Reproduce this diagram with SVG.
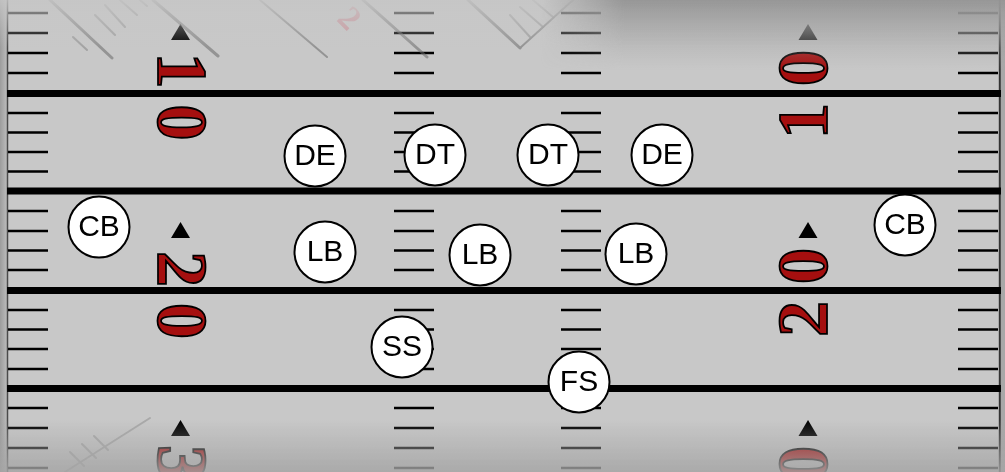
<svg xmlns="http://www.w3.org/2000/svg" width="1005" height="472" viewBox="0 0 1005 472">
<defs>
<style>
.hash{stroke:#000;stroke-width:2.5;fill:none}
.yard{stroke:#000;stroke-width:7;fill:none}
.num{font-family:"Liberation Serif","Times New Roman",serif;font-weight:bold;font-size:72px;fill:#a50f0f;stroke:#000;stroke-width:1.8;text-anchor:middle}
.tri{fill:#000}
.node circle{fill:#fff;stroke:#000;stroke-width:2}
.node text{font-family:"Liberation Sans",Arial,sans-serif;font-size:30px;fill:#000;text-anchor:middle}
.decor{stroke:#6a6a6a;fill:none;stroke-linecap:round}
</style>
<linearGradient id="topFog" x1="0" y1="0" x2="0" y2="1">
<stop offset="0" stop-color="#c6c6c6" stop-opacity="0.85"/>
<stop offset="1" stop-color="#c6c6c6" stop-opacity="0"/>
</linearGradient>
<linearGradient id="topDark" x1="0" y1="0" x2="0" y2="1">
<stop offset="0" stop-color="#8e8e8e" stop-opacity="0.85"/>
<stop offset="0.5" stop-color="#9a9a9a" stop-opacity="0.45"/>
<stop offset="1" stop-color="#aaa" stop-opacity="0"/>
</linearGradient>
<linearGradient id="topDarkSide" x1="0" y1="0" x2="1" y2="0">
<stop offset="0" stop-color="#fff" stop-opacity="0"/>
<stop offset="0.18" stop-color="#fff" stop-opacity="1"/>
<stop offset="1" stop-color="#fff" stop-opacity="1"/>
</linearGradient>
<mask id="sideMask" maskUnits="userSpaceOnUse" x="0" y="0" width="1005" height="472">
<rect x="540" y="0" width="465" height="70" fill="url(#topDarkSide)"/>
</mask>
<linearGradient id="botFog" x1="0" y1="0" x2="0" y2="1">
<stop offset="0" stop-color="#a4a4a4" stop-opacity="0"/>
<stop offset="1" stop-color="#a4a4a4" stop-opacity="0.85"/>
</linearGradient>
<linearGradient id="leftEdge" x1="0" y1="0" x2="1" y2="0">
<stop offset="0" stop-color="#9c9c9c"/>
<stop offset="1" stop-color="#bcbcbc"/>
</linearGradient>
<path id="ticks" d="M0 13h40M0 33h40M0 53h40M0 73h40M0 113h40M0 132.5h40M0 152h40M0 171.5h40M0 211h40M0 231h40M0 250.5h40M0 270h40M0 310h40M0 329.5h40M0 349h40M0 369h40M0 408h40M0 428h40M0 448h40M0 468h40"/>
<path id="tri" d="M-9.5 8L9.5 8L0 -8Z"/>
</defs>

<rect x="0" y="0" width="1005" height="472" fill="#c8c8c8"/>

<g id="field">
<rect x="0" y="0" width="7" height="472" fill="url(#leftEdge)"/>
<rect x="1001" y="0" width="4" height="472" fill="#a8a8a8"/>
<line x1="7.5" y1="0" x2="7.5" y2="472" stroke="#4a4a4a" stroke-width="1.5"/>
<line x1="999.8" y1="0" x2="999.8" y2="472" stroke="#333" stroke-width="2"/>
<g class="hash">
<use href="#ticks" x="8"/>
<use href="#ticks" x="394"/>
<use href="#ticks" x="561"/>
<use href="#ticks" x="958"/>
</g>
<path class="yard" d="M7 93.5H1001M7 191H1001M7 290.5H1001M7 388.5H1001"/>
<g class="tri">
<use href="#tri" x="180.5" y="32"/>
<use href="#tri" x="808" y="32"/>
<use href="#tri" x="180.5" y="230"/>
<use href="#tri" x="808" y="230"/>
<use href="#tri" x="180.5" y="428"/>
<use href="#tri" x="808" y="428"/>
</g>
<text class="num" transform="translate(158 96.5) rotate(90)"><tspan x="-26">1</tspan><tspan x="26">0</tspan></text>
<text class="num" transform="translate(827 94.5) rotate(-90)"><tspan x="-26.5">1</tspan><tspan x="26.5">0</tspan></text>
<text class="num" transform="translate(158 295) rotate(90)"><tspan x="-26">2</tspan><tspan x="26">0</tspan></text>
<text class="num" transform="translate(827 292.5) rotate(-90)"><tspan x="-26.5">2</tspan><tspan x="26.5">0</tspan></text>
<text class="num" transform="translate(158 489) rotate(90)"><tspan x="-26">3</tspan></text>
<text class="num" transform="translate(827 490) rotate(-90)"><tspan x="26">0</tspan></text>
</g>

<g id="reflection" opacity="0.55">
<path class="decor" stroke-width="3" d="M50 0L112 58M153 0L218 56M363 0L427 57M468 0L520 48"/>
<path class="decor" stroke-width="2" d="M260 0L327 57M520 48L573 0"/>
<path class="decor" stroke-width="2" opacity="0.7" d="M95 15L115 35M105 5L125 27M120 0L137 15M140 0L147 6M73 37L87 50M510 15L530 37M520 7L543 27M533 0L553 17"/>
<path class="decor" stroke-width="2" opacity="0.6" d="M65 472L150 418M70 452L84 466M82 444L96 458M94 436L108 450"/>
<text x="0" y="0" transform="translate(350 18) rotate(45)" font-family="Liberation Serif, serif" font-weight="bold" font-size="34" fill="#d0606e" opacity="0.8" text-anchor="middle" dominant-baseline="central">2</text>
</g>

<rect x="0" y="0" width="1005" height="48" fill="url(#topFog)"/>
<rect x="540" y="0" width="465" height="70" fill="url(#topDark)" mask="url(#sideMask)"/>
<rect x="0" y="420" width="1005" height="52" fill="url(#botFog)"/>

<g id="connectors"></g>

<g id="nodes">
<g id="de-left" class="node"><circle cx="315" cy="156" r="30.5"/><text x="315" y="165">DE</text></g>
<g id="dt-left" class="node"><circle cx="435" cy="155" r="30.5"/><text x="435" y="164">DT</text></g>
<g id="dt-right" class="node"><circle cx="548" cy="155" r="30.5"/><text x="548" y="164">DT</text></g>
<g id="de-right" class="node"><circle cx="662" cy="155" r="30.5"/><text x="662" y="164">DE</text></g>
<g id="cb-left" class="node"><circle cx="99" cy="227" r="30.5"/><text x="99" y="236">CB</text></g>
<g id="cb-right" class="node"><circle cx="905" cy="225" r="30.5"/><text x="905" y="234">CB</text></g>
<g id="lb-left" class="node"><circle cx="325" cy="252" r="30.5"/><text x="325" y="261">LB</text></g>
<g id="lb-mid" class="node"><circle cx="480" cy="255" r="30.5"/><text x="480" y="264">LB</text></g>
<g id="lb-right" class="node"><circle cx="636" cy="254" r="30.5"/><text x="636" y="263">LB</text></g>
<g id="ss" class="node"><circle cx="402" cy="347" r="30.5"/><text x="402" y="356">SS</text></g>
<g id="fs" class="node"><circle cx="579" cy="382" r="30.5"/><text x="579" y="391">FS</text></g>
</g>
</svg>
